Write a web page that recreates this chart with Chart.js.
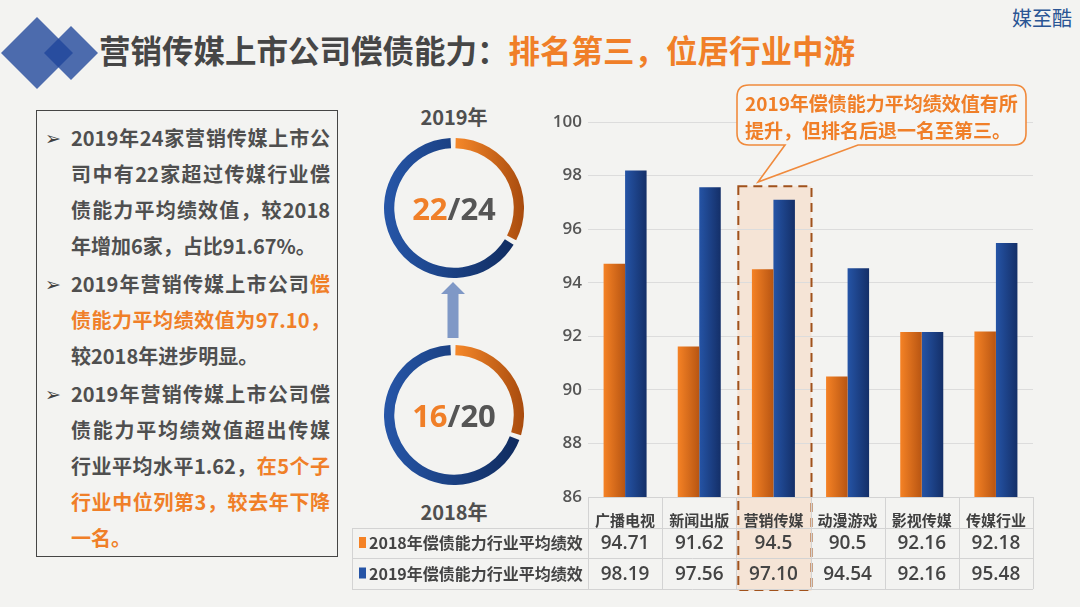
<!DOCTYPE html>
<html>
<head>
<meta charset="utf-8">
<script src="https://cdn.jsdelivr.net/npm/chart.js@4.4.1/dist/chart.umd.min.js"></script>
<style>
    body { margin: 0; width: 1080px; height: 607px; background: #f3f3f1; position: relative; overflow: hidden;
           font-family: "Noto Sans CJK SC", "Noto Sans", sans-serif; }
    .abs { position: absolute; }
    #title { left: 99px; top: 27px; font-size: 31.5px; font-weight: bold; color: #464646; white-space: nowrap; line-height: 44px; }
    .o { color: #f07f28; }
    #brand { right: 8px; top: 4px; font-size: 20px; color: #2a5594; line-height: 28px; }
    #box { left: 36px; top: 110px; width: 302px; height: 447px; border: 1.5px solid #454545; box-sizing: border-box;
           padding: 9px 7px 0 34px; color: #4f4f4f; font-size: 20px; font-weight: bold; }
    #box .p { position: relative; margin-bottom: 2px; }
    #box .p::before { content: "➢"; position: absolute; left: -26px; top: 0; line-height: 36px; font-size: 19px;
                      font-family: "DejaVu Sans"; color: #404040; }
    #box .l { line-height: 36px; height: 36px; white-space: nowrap; }
    #box .j { text-align: justify; text-align-last: justify; }
    .yr { width: 120px; text-align: center; font-size: 20px; font-weight: bold; color: #4f4f4f; line-height: 28px; }
    .ctr { width: 140px; text-align: center; font-size: 31px; font-weight: 700; color: #555; line-height: 40px;
           font-family: "Open Sans", sans-serif; }
    #note { left: 745px; top: 89px; font-size: 19px; font-weight: bold; color: #f07f28; line-height: 27px; white-space: nowrap; }
</style>
</head>
<body>
<svg class="abs" style="left:0;top:0" width="110" height="100">
    <polygon points="37,17 73,53 37,89 1,53" fill="rgba(30,70,155,0.79)"/>
    <polygon points="71,26 98,53 71,80 44,53" fill="rgba(30,70,155,0.79)"/>
</svg>
<div id="title" class="abs">营销传媒上市公司偿债能力：<span class="o">排名第三，位居行业中游</span></div>
<div id="brand" class="abs">媒至酷</div>

<div id="box" class="abs">
    <div class="p">
        <div class="l j">2019年24家营销传媒上市公</div>
        <div class="l j">司中有22家超过传媒行业偿</div>
        <div class="l j">债能力平均绩效值，较2018</div>
        <div class="l">年增加6家，占比91.67%。</div>
    </div>
    <div class="p">
        <div class="l j">2019年营销传媒上市公司<span class="o">偿</span></div>
        <div class="l j o">债能力平均绩效值为97.10，</div>
        <div class="l">较2018年进步明显。</div>
    </div>
    <div class="p">
        <div class="l j">2019年营销传媒上市公司偿</div>
        <div class="l j">债能力平均绩效值超出传媒</div>
        <div class="l j">行业平均水平1.62，<span class="o">在5个子</span></div>
        <div class="l j o">行业中位列第3，较去年下降</div>
        <div class="l o">一名。</div>
    </div>
</div>

<div class="abs yr" style="left:394px;top:103px">2019年</div>
<div class="abs yr" style="left:394px;top:498px">2018年</div>
<canvas id="ring2019" class="abs" width="140" height="140" style="left:384px;top:138px"></canvas>
<canvas id="ring2018" class="abs" width="140" height="140" style="left:384px;top:345px"></canvas>
<div class="abs ctr" style="left:384px;top:188px"><span class="o">22</span>/24</div>
<div class="abs ctr" style="left:384px;top:395px"><span class="o">16</span>/20</div>
<svg class="abs" style="left:0;top:0" width="540" height="400">
    <polygon points="453,282 465,294 458.5,294 458.5,338 447.5,338 447.5,294 441,294" fill="#7f98c6"/>
</svg>

<canvas id="barChart" class="abs" width="710" height="510" style="left:340px;top:90px"></canvas>

<svg class="abs" style="left:0;top:0" width="1080" height="200">
    <path d="M749 85 H1014 Q1026 85 1026 97 V133 Q1026 145 1014 145 H858 L758 182 L785 145 H749 Q737 145 737 133 V97 Q737 85 749 85 Z"
          fill="#f5f5f3" stroke="#f08a3c" stroke-width="1.6"/>
</svg>
<div id="note" class="abs">2019年偿债能力平均绩效值有所<br>提升，但排名后退一名至第三。</div>

<script>
// 数据
const categories = ['广播电视', '新闻出版', '营销传媒', '动漫游戏', '影视传媒', '传媒行业'];
const series2018 = [94.71, 91.62, 94.5, 90.5, 92.16, 92.18];
const series2019 = [98.19, 97.56, 97.10, 94.54, 92.16, 95.48];
const tableText2018 = ['94.71', '91.62', '94.5', '90.5', '92.16', '92.18'];
const tableText2019 = ['98.19', '97.56', '97.10', '94.54', '92.16', '95.48'];
const seriesNames = ['2018年偿债能力行业平均绩效', '2019年偿债能力行业平均绩效'];
const yTicks = [86, 88, 90, 92, 94, 96, 98, 100];
const highlightIndex = 2;

// 圆环：橙色段 / 蓝色段（按图形估读）
const ring2019 = [33, 67];
const ring2018 = [30, 70];

const CAT_PCT = 0.58;
const ORANGE = ['#f58225', '#b85512'];
const BLUE = ['#2554a6', '#142f68'];

function barFill(colors) {
    return ctx => {
        const chart = ctx.chart;
        const xs = chart.scales.x;
        if (!chart.chartArea || !xs || ctx.dataIndex === undefined) return colors[0];
        const group = xs.width / categories.length * CAT_PCT;
        const c = xs.getPixelForValue(ctx.dataIndex);
        const x0 = c - group / 2 + ctx.datasetIndex * group / 2;
        const g = chart.ctx.createLinearGradient(x0, 0, x0 + group / 2, 0);
        g.addColorStop(0, colors[0]);
        g.addColorStop(1, colors[1]);
        return g;
    };
}

const highlightPlugin = {
    id: 'highlight',
    beforeDraw(chart) {
        const { ctx, scales: { x, y } } = chart;
        const col = x.width / categories.length;
        const left = x.getPixelForValue(highlightIndex) - col / 2;
        const top = y.getPixelForValue(97.6);
        ctx.save();
        ctx.fillStyle = 'rgba(248, 210, 182, 0.45)';
        ctx.fillRect(left + 1, top, col, 501 - top);
        ctx.restore();
    },
    afterDraw(chart) {
        const { ctx, scales: { x, y } } = chart;
        const col = x.width / categories.length;
        const left = x.getPixelForValue(highlightIndex) - col / 2;
        const top = y.getPixelForValue(97.6);
        ctx.save();
        ctx.strokeStyle = '#a0521c';
        ctx.lineWidth = 2;
        ctx.setLineDash([9, 6]);
        ctx.strokeRect(left + 2, top, col - 1, 500 - top);
        ctx.restore();
    }
};

// 图表下方的数据表
const tablePlugin = {
    id: 'dataTable',
    afterDraw(chart) {
        const { ctx, chartArea, scales: { x } } = chart;
        const col = x.width / categories.length;
        const rows = [chartArea.bottom, chartArea.bottom + 31, chartArea.bottom + 61, chartArea.bottom + 92];
        const tableLeft = 12;
        ctx.save();
        ctx.strokeStyle = '#d3d3d3';
        ctx.lineWidth = 1;
        ctx.beginPath();
        ctx.moveTo(chartArea.left, rows[0] + 0.5);
        ctx.lineTo(chartArea.right, rows[0] + 0.5);
        for (let r = 1; r < rows.length; r++) {
            ctx.moveTo(tableLeft, rows[r] + 0.5);
            ctx.lineTo(chartArea.right, rows[r] + 0.5);
        }
        for (let i = 0; i <= categories.length; i++) {
            const px = Math.round(chartArea.left + i * col) + 0.5;
            ctx.moveTo(px, rows[0]);
            ctx.lineTo(px, rows[3]);
        }
        ctx.moveTo(tableLeft + 0.5, rows[1]);
        ctx.lineTo(tableLeft + 0.5, rows[3]);
        ctx.stroke();

        const texts = [tableText2018, tableText2019];
        const marks = [ORANGE, BLUE];
        ctx.textBaseline = 'middle';
        texts.forEach((vals, r) => {
            const cy = (rows[r + 1] + rows[r + 2]) / 2;
            ctx.fillStyle = marks[r][0];
            ctx.fillRect(tableLeft + 7, cy - 6, 7, 11);
            ctx.fillStyle = '#444';
            ctx.textAlign = 'left';
            ctx.font = 'bold 16px "Noto Sans CJK SC"';
            ctx.fillText(seriesNames[r], tableLeft + 17, cy);
            ctx.textAlign = 'center';
            ctx.font = '600 19px "Open Sans"';
            vals.forEach((v, i) => ctx.fillText(v, x.getPixelForValue(i), cy + 1));
        });
        ctx.restore();
    }
};

new Chart(document.getElementById('barChart'), {
    type: 'bar',
    data: {
        labels: categories,
        datasets: [
            { label: seriesNames[0], data: series2018, backgroundColor: barFill(ORANGE),
              categoryPercentage: CAT_PCT, barPercentage: 1, borderWidth: 0 },
            { label: seriesNames[1], data: series2019, backgroundColor: barFill(BLUE),
              categoryPercentage: CAT_PCT, barPercentage: 1, borderWidth: 0 }
        ]
    },
    options: {
        responsive: false,
        animation: false,
        layout: { padding: { left: 198, right: 17, top: 32, bottom: 10 } },
        plugins: { legend: { display: false }, tooltip: { enabled: false } },
        scales: {
            x: {
                grid: { display: false },
                border: { display: false },
                ticks: { color: '#404040', padding: 6, font: { family: 'Noto Sans CJK SC', size: 15, weight: 'bold' } },
                afterFit: scale => { scale.height = 93; }
            },
            y: {
                min: yTicks[0],
                max: yTicks[yTicks.length - 1],
                afterBuildTicks: scale => { scale.ticks = yTicks.map(v => ({ value: v })); },
                grid: { color: '#dcdcdc', drawTicks: false },
                border: { display: false },
                ticks: { color: '#555', padding: 6, font: { family: 'Open Sans', size: 17, weight: '600' } },
                afterFit: scale => { scale.width = 50; }
            }
        }
    },
    plugins: [highlightPlugin, tablePlugin]
});

function ringFill(ctx) {
    const chart = ctx.chart;
    const a = chart.chartArea;
    if (!a) return ctx.dataIndex === 0 ? ORANGE[0] : BLUE[0];
    const cx = (a.left + a.right) / 2;
    let g;
    if (ctx.dataIndex === 0) {
        g = chart.ctx.createLinearGradient(cx, 0, a.right, 0);
        g.addColorStop(0, '#f7892a');
        g.addColorStop(1, '#a84b0e');
    } else {
        g = chart.ctx.createLinearGradient(a.left, 0, a.right, 0);
        g.addColorStop(0, '#2656a8');
        g.addColorStop(1, '#0f2a5c');
    }
    return g;
}

function makeRing(id, values) {
    new Chart(document.getElementById(id), {
        type: 'doughnut',
        data: {
            labels: ['超过', '其他'],
            datasets: [{ data: values, backgroundColor: ringFill, borderWidth: 0, spacing: 3 }]
        },
        options: {
            responsive: false,
            animation: false,
            cutout: '85%',
            plugins: { legend: { display: false }, tooltip: { enabled: false } }
        }
    });
}

makeRing('ring2019', ring2019);
makeRing('ring2018', ring2018);
</script>
</body>
</html>
